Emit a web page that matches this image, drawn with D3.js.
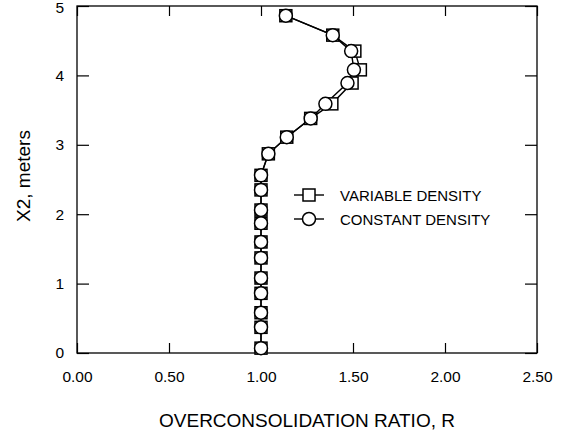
<!DOCTYPE html>
<html>
<head>
<meta charset="utf-8">
<script src="https://cdn.jsdelivr.net/npm/d3@7"></script>
<style>
  body { margin: 0; background: #fff; }
  text { font-family: "Liberation Sans", Arial, sans-serif; fill: #000; }
</style>
</head>
<body>
<div id="chart"></div>
<script>
// Depth X2 (m) for each measured point, bottom to top
const depth = [0.07, 0.37, 0.58, 0.86, 1.08, 1.37, 1.60, 1.87, 2.06, 2.35, 2.56,
               2.87, 3.11, 3.38, 3.59, 3.89, 4.08, 4.35, 4.58, 4.86];
// Overconsolidation ratio, constant density run
const rConstant = [1.00, 1.00, 1.00, 1.00, 1.00, 1.00, 1.00, 1.00, 1.00, 1.00, 1.00,
                   1.04, 1.14, 1.27, 1.35, 1.47, 1.505, 1.49, 1.39, 1.135];
// Overconsolidation ratio, variable density run
const rVariable = [1.00, 1.00, 1.00, 1.00, 1.00, 1.00, 1.00, 1.00, 1.00, 1.00, 1.00,
                   1.04, 1.14, 1.27, 1.385, 1.495, 1.54, 1.51, 1.39, 1.135];
const xTicks = [0, 0.5, 1.0, 1.5, 2.0, 2.5];
const yTicks = [0, 1, 2, 3, 4, 5];

const width = 578, height = 435;
const margin = {top: 6, right: 41, bottom: 82, left: 77};

const svg = d3.select("#chart").append("svg")
  .attr("width", width)
  .attr("height", height);

const x = d3.scaleLinear().domain([0, 2.5]).range([margin.left, width - margin.right]);
const y = d3.scaleLinear().domain([0, 5]).range([height - margin.bottom, margin.top]);

// Frame
svg.append("rect")
  .attr("x", x(0)).attr("y", y(5))
  .attr("width", x(2.5) - x(0)).attr("height", y(0) - y(5))
  .attr("fill", "none").attr("stroke", "#000").attr("stroke-width", 1.3);

// Axes with inward ticks
const fmt = d3.format(".2f");
svg.append("g")
  .attr("transform", `translate(0,${y(0)})`)
  .call(d3.axisBottom(x).tickValues(xTicks).tickFormat(fmt).tickSizeInner(-10).tickSizeOuter(0).tickPadding(18))
  .call(g => g.select(".domain").remove())
  .call(g => g.selectAll("text").attr("font-size", "15.5px").attr("font-family", "Liberation Sans, Arial, sans-serif"));
svg.append("g")
  .attr("transform", `translate(0,${y(5)})`)
  .call(d3.axisTop(x).tickValues(xTicks).tickFormat("").tickSizeInner(-10).tickSizeOuter(0))
  .call(g => g.select(".domain").remove());
svg.append("g")
  .attr("transform", `translate(${x(0)},0)`)
  .call(d3.axisLeft(y).tickValues(yTicks).tickFormat(d3.format("d")).tickSizeInner(-12).tickSizeOuter(0).tickPadding(13))
  .call(g => g.select(".domain").remove())
  .call(g => g.selectAll("text").attr("font-size", "15.5px").attr("font-family", "Liberation Sans, Arial, sans-serif")
    .attr("dy", d => d === 5 ? "0.45em" : "0.32em"));
svg.append("g")
  .attr("transform", `translate(${x(2.5)},0)`)
  .call(d3.axisRight(y).tickValues(yTicks).tickFormat("").tickSizeInner(-12).tickSizeOuter(0))
  .call(g => g.select(".domain").remove());
svg.selectAll(".tick line").attr("stroke", "#000").attr("stroke-width", 1.2);

// Axis titles
svg.append("text")
  .attr("x", (x(0) + x(2.5)) / 2)
  .attr("y", 427)
  .attr("text-anchor", "middle")
  .attr("font-size", "19px")
  .text("OVERCONSOLIDATION RATIO, R");
svg.append("text")
  .attr("transform", "rotate(-90)")
  .attr("x", -176)
  .attr("y", 30)
  .attr("text-anchor", "middle")
  .attr("font-size", "19px")
  .text("X2, meters");

const line = d3.line().x(d => x(d[0])).y(d => y(d[1]));
const varPts = depth.map((d, i) => [rVariable[i], d]);
const conPts = depth.map((d, i) => [rConstant[i], d]);

// Lines
svg.append("path").datum(varPts)
  .attr("fill", "none").attr("stroke", "#000").attr("stroke-width", 1.4).attr("d", line);
svg.append("path").datum(conPts)
  .attr("fill", "none").attr("stroke", "#000").attr("stroke-width", 1.4).attr("d", line);

// Square markers (variable density)
const s = 12;
svg.selectAll("rect.var").data(varPts).enter().append("rect")
  .attr("class", "var")
  .attr("x", d => x(d[0]) - s / 2).attr("y", d => y(d[1]) - s / 2)
  .attr("width", s).attr("height", s)
  .attr("fill", "#fff").attr("stroke", "#000").attr("stroke-width", 1.5);

// Circle markers (constant density)
svg.selectAll("circle.con").data(conPts).enter().append("circle")
  .attr("class", "con")
  .attr("cx", d => x(d[0])).attr("cy", d => y(d[1]))
  .attr("r", 6.5)
  .attr("fill", "#fff").attr("stroke", "#000").attr("stroke-width", 1.5);

// Legend
const legend = svg.append("g").attr("transform", "translate(294,195)");
legend.append("line").attr("x1", 0).attr("x2", 30).attr("y1", 0).attr("y2", 0)
  .attr("stroke", "#000").attr("stroke-width", 1.4);
legend.append("rect").attr("x", 15 - s / 2).attr("y", -s / 2).attr("width", s).attr("height", s)
  .attr("fill", "#fff").attr("stroke", "#000").attr("stroke-width", 1.5);
legend.append("text").attr("x", 46).attr("y", 5.5).attr("font-size", "15px").text("VARIABLE DENSITY");
legend.append("line").attr("x1", 0).attr("x2", 30).attr("y1", 24).attr("y2", 24)
  .attr("stroke", "#000").attr("stroke-width", 1.4);
legend.append("circle").attr("cx", 15).attr("cy", 24).attr("r", 6.5)
  .attr("fill", "#fff").attr("stroke", "#000").attr("stroke-width", 1.5);
legend.append("text").attr("x", 46).attr("y", 29.5).attr("font-size", "15px").text("CONSTANT DENSITY");
</script>
</body>
</html>
